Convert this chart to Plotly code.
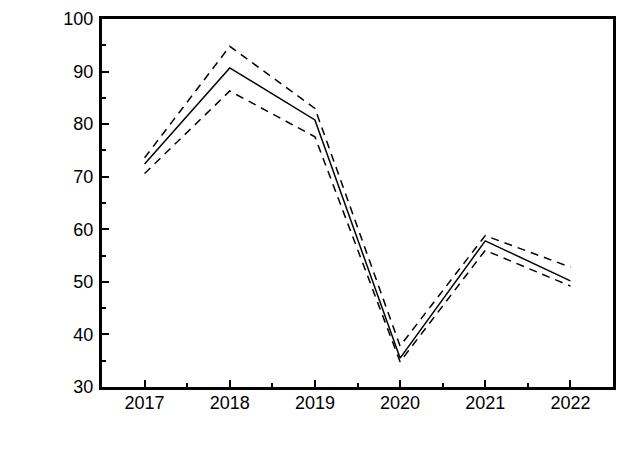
import plotly.graph_objects as go

years = [2017, 2018, 2019, 2020, 2021, 2022]
mean_vals = [72.4, 90.7, 80.8, 35.5, 57.8, 50.2]
upper_vals = [73.6, 94.8, 83.0, 37.8, 58.8, 52.8]
lower_vals = [70.6, 86.3, 77.6, 34.8, 56.0, 49.2]

fig = go.Figure()
fig.add_trace(go.Scatter(x=years, y=upper_vals, mode="lines",
                         line=dict(color="black", width=1.5, dash="8px,6px")))
fig.add_trace(go.Scatter(x=years, y=lower_vals, mode="lines",
                         line=dict(color="black", width=1.5, dash="8px,6px")))
fig.add_trace(go.Scatter(x=years, y=mean_vals, mode="lines",
                         line=dict(color="black", width=1.5)))

fig.update_layout(
    width=619, height=446,
    margin=dict(l=94, r=14, t=11, b=67),
    paper_bgcolor="white", plot_bgcolor="white",
    showlegend=False,
    font=dict(family="Liberation Sans, Arial", size=18, color="black"),
)
fig.update_xaxes(range=[2016.5, 2022.5], tickvals=years, ticktext=[str(y) for y in years],
                 showline=True, linewidth=3, linecolor="black", mirror=True,
                 ticks="inside", ticklen=7, tickwidth=2, tickcolor="black",
                 minor=dict(ticks="inside", ticklen=4, tickwidth=2, dtick=0.5, tick0=2016.5, tickcolor="black"),
                 showgrid=False, zeroline=False, ticklabelstandoff=-3, automargin=False)
fig.update_yaxes(range=[30, 100], dtick=10,
                 showline=True, linewidth=3, linecolor="black", mirror=True,
                 ticks="inside", ticklen=7, tickwidth=2, tickcolor="black",
                 minor=dict(ticks="inside", ticklen=4, tickwidth=2, dtick=5, tickcolor="black"),
                 showgrid=False, zeroline=False, ticklabelstandoff=2, automargin=False)
fig.write_html("out.html")
